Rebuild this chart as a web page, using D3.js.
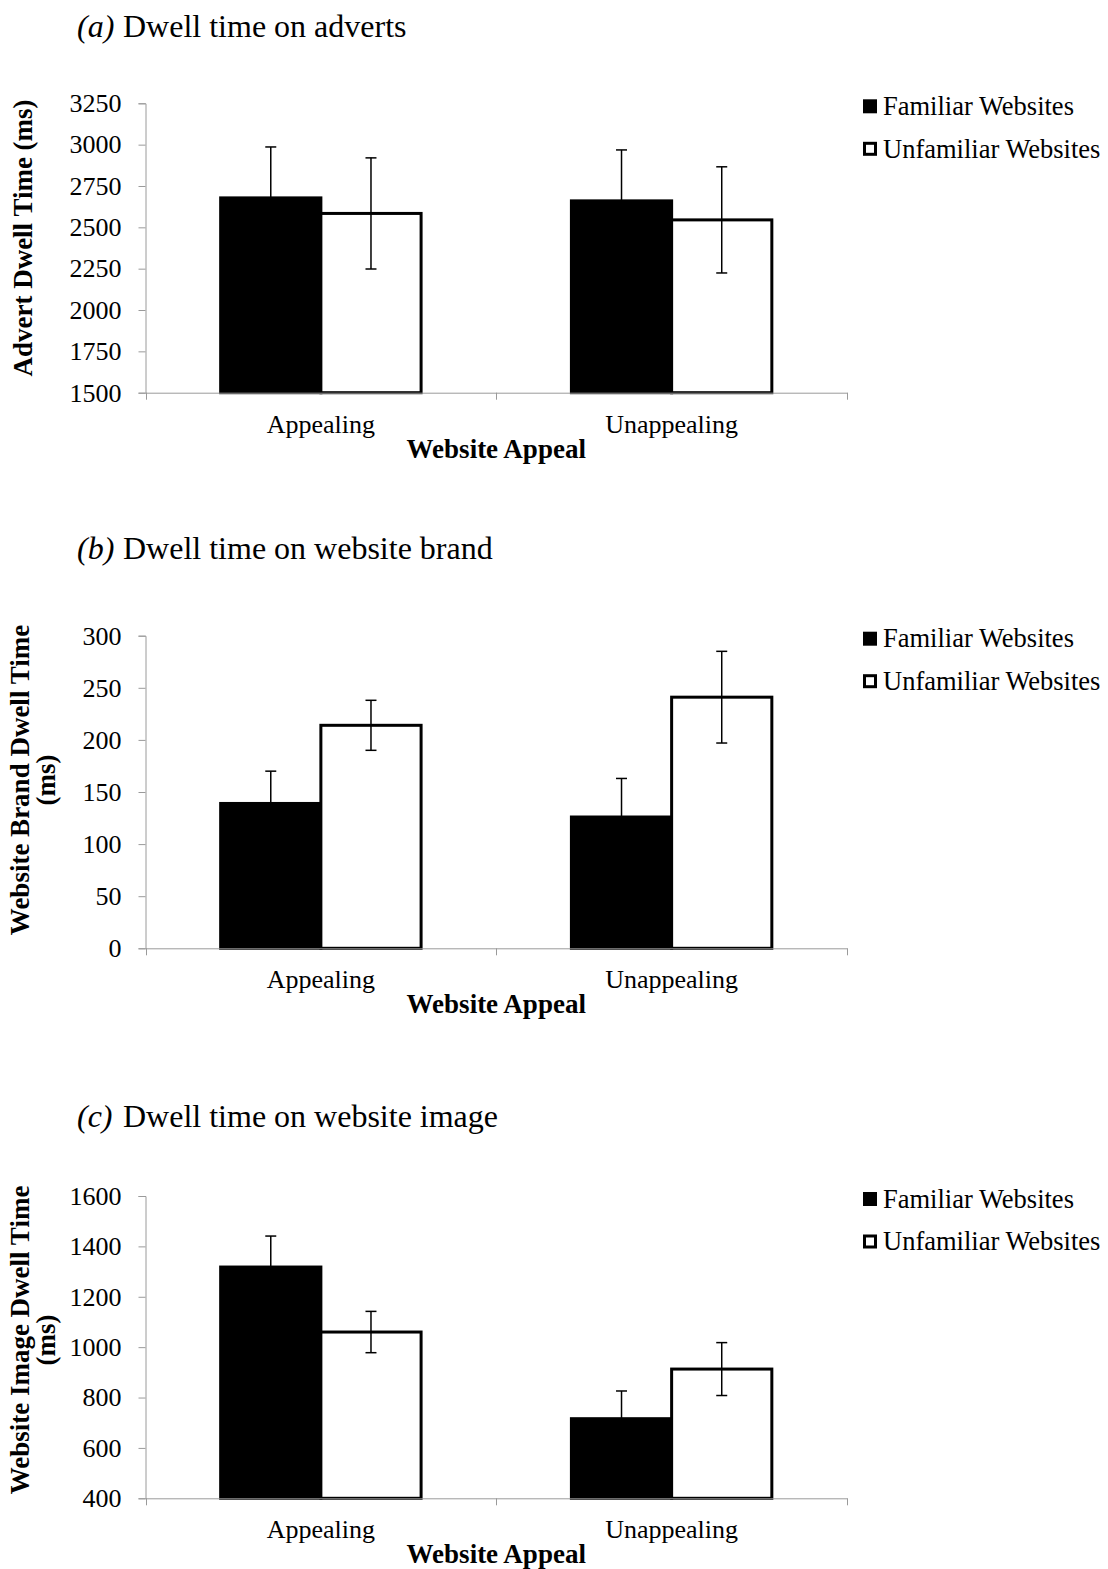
<!DOCTYPE html>
<html>
<head>
<meta charset="utf-8">
<script src="https://cdn.jsdelivr.net/npm/d3@7"></script>
<style>
  body { margin: 0; background: #fff; }
  svg { display: block; }
  text { font-family: "Liberation Serif", "Times New Roman", serif; fill: #000; }
</style>
</head>
<body>
<div id="chart"></div>
<script>
// categories and series
var categories = ["Appealing", "Unappealing"];
var seriesNames = ["Familiar Websites", "Unfamiliar Websites"];

// (a) dwell time on adverts
var advertFamiliar = [2678, 2660];
var advertFamiliarSE = [308, 308];
var advertUnfamiliar = [2584, 2545];
var advertUnfamiliarSE = [336, 321];
var advertTicks = [1500, 1750, 2000, 2250, 2500, 2750, 3000, 3250];

// (b) dwell time on website brand
var brandFamiliar = [139, 126];
var brandFamiliarSE = [31, 37];
var brandUnfamiliar = [214, 241];
var brandUnfamiliarSE = [24, 44];
var brandTicks = [0, 50, 100, 150, 200, 250, 300];

// (c) dwell time on website image
var imageFamiliar = [1318, 716];
var imageFamiliarSE = [123, 110];
var imageUnfamiliar = [1060, 913];
var imageUnfamiliarSE = [82, 105];
var imageTicks = [400, 600, 800, 1000, 1200, 1400, 1600];

var width = 1108, height = 1569;
var axisLeftX = 145.5, axisRightX = 847;
var axisColor = "#9a9a9a";

var svg = d3.select("#chart").append("svg")
    .attr("width", width)
    .attr("height", height);

var panels = [
    {letter: "(a)", title: "Dwell time on adverts", titleY: 37, top: 103.3, bottom: 392.7,
     ticks: advertTicks, yTitle: ["Advert Dwell Time (ms)"], yTitleX: [32], yTitleY: 238,
     fam: advertFamiliar, famSE: advertFamiliarSE, unf: advertUnfamiliar, unfSE: advertUnfamiliarSE},
    {letter: "(b)", title: "Dwell time on website brand", titleY: 559, top: 635.7, bottom: 948.3,
     ticks: brandTicks, yTitle: ["Website Brand Dwell Time", "(ms)"], yTitleX: [29, 55], yTitleY: 780,
     fam: brandFamiliar, famSE: brandFamiliarSE, unf: brandUnfamiliar, unfSE: brandUnfamiliarSE},
    {letter: "(c)", title: "Dwell time on website image", titleY: 1127, top: 1196, bottom: 1498.3,
     ticks: imageTicks, yTitle: ["Website Image Dwell Time", "(ms)"], yTitleX: [29, 55], yTitleY: 1340,
     fam: imageFamiliar, famSE: imageFamiliarSE, unf: imageUnfamiliar, unfSE: imageUnfamiliarSE}
];

panels.forEach(function(p) {
    var g = svg.append("g");

    var x = d3.scaleBand().domain(categories).range([axisLeftX, axisRightX]);
    // excel gap width 150%
    var xs = d3.scaleBand().domain(seriesNames).range([0, x.bandwidth()]).paddingOuter(0.75);
    var y = d3.scaleLinear().domain(d3.extent(p.ticks)).range([p.bottom, p.top]);

    // panel title
    var t = g.append("text")
        .attr("x", 77)
        .attr("y", p.titleY)
        .style("font-size", "32px");
    t.append("tspan").style("font-style", "italic").text(p.letter);
    t.append("tspan").attr("x", 123).text(p.title);

    var rows = [];
    categories.forEach(function(c, i) {
        rows.push({cat: c, series: seriesNames[0], v: p.fam[i], se: p.famSE[i]});
        rows.push({cat: c, series: seriesNames[1], v: p.unf[i], se: p.unfSE[i]});
    });

    // bars
    g.selectAll("rect.bar")
        .data(rows)
        .enter().append("rect")
        .attr("class", "bar")
        .attr("x", function(d) { return x(d.cat) + xs(d.series); })
        .attr("y", function(d) { return y(d.v); })
        .attr("width", xs.bandwidth())
        .attr("height", function(d) { return y.range()[0] - y(d.v); })
        .attr("fill", function(d) { return d.series == seriesNames[0] ? "#000" : "#fff"; })
        .attr("stroke", "#000")
        .attr("stroke-width", 3);

    // error bars
    var cx = function(d) { return x(d.cat) + xs(d.series) + xs.bandwidth() / 2; };
    var err = g.selectAll("g.err")
        .data(rows)
        .enter().append("g")
        .attr("class", "err")
        .attr("stroke", "#000")
        .attr("stroke-width", 1.5);
    err.append("line")
        .attr("x1", cx).attr("x2", cx)
        .attr("y1", function(d) { return y(d.v - d.se); })
        .attr("y2", function(d) { return y(d.v + d.se); });
    err.append("line")
        .attr("x1", function(d) { return cx(d) - 5.5; })
        .attr("x2", function(d) { return cx(d) + 5.5; })
        .attr("y1", function(d) { return y(d.v + d.se); })
        .attr("y2", function(d) { return y(d.v + d.se); });
    err.append("line")
        .attr("x1", function(d) { return cx(d) - 5.5; })
        .attr("x2", function(d) { return cx(d) + 5.5; })
        .attr("y1", function(d) { return y(d.v - d.se); })
        .attr("y2", function(d) { return y(d.v - d.se); });

    // y axis
    var yAxis = g.append("g")
        .attr("transform", "translate(" + axisLeftX + ",0)")
        .call(d3.axisLeft(y).tickValues(p.ticks).tickFormat(d3.format("d")).tickSize(7).tickPadding(17));
    yAxis.attr("font-family", null).attr("font-size", null);
    yAxis.selectAll("path, line").attr("stroke", axisColor);
    yAxis.selectAll("text").style("font-size", "26px");

    // x axis
    var xAxis = g.append("g")
        .attr("transform", "translate(0," + p.bottom + ")")
        .call(d3.axisBottom(x).tickSize(0).tickPadding(21.5));
    xAxis.attr("font-family", null).attr("font-size", null);
    xAxis.selectAll("path, line").attr("stroke", axisColor);
    xAxis.selectAll("text").style("font-size", "26px");

    // category boundary ticks
    var bounds = categories.map(function(c) { return x(c); }).concat([x.range()[1]]);
    xAxis.selectAll("line.bound")
        .data(bounds)
        .enter().append("line")
        .attr("class", "bound")
        .attr("x1", function(d) { return Math.round(d) + 0.5; })
        .attr("x2", function(d) { return Math.round(d) + 0.5; })
        .attr("y1", 0)
        .attr("y2", 7)
        .attr("stroke", axisColor);

    // x axis title
    g.append("text")
        .attr("x", (x.range()[0] + x.range()[1]) / 2)
        .attr("y", p.bottom + 65)
        .attr("text-anchor", "middle")
        .style("font-size", "27px")
        .style("font-weight", "bold")
        .text("Website Appeal");

    // y axis title
    p.yTitle.forEach(function(line, i) {
        g.append("text")
            .attr("transform", "translate(" + p.yTitleX[i] + "," + p.yTitleY + ") rotate(-90)")
            .attr("text-anchor", "middle")
            .style("font-size", "27px")
            .style("font-weight", "bold")
            .text(line);
    });

    // legend
    var legend = g.selectAll("g.legend")
        .data(seriesNames)
        .enter().append("g")
        .attr("class", "legend")
        .attr("transform", function(d, i) { return "translate(863," + (p.top + 3 + i * 42.5) + ")"; });
    legend.append("rect")
        .attr("x", function(d, i) { return i == 0 ? 0 : 1.5; })
        .attr("y", function(d, i) { return i == 0 ? -7 : -5.5; })
        .attr("width", function(d, i) { return i == 0 ? 14 : 11; })
        .attr("height", function(d, i) { return i == 0 ? 14 : 11; })
        .attr("fill", function(d, i) { return i == 0 ? "#000" : "#fff"; })
        .attr("stroke", function(d, i) { return i == 0 ? "none" : "#000"; })
        .attr("stroke-width", 3);
    legend.append("text")
        .attr("x", 20)
        .attr("dy", "0.33em")
        .style("font-size", "26.5px")
        .text(function(d) { return d; });
});
</script>
</body>
</html>
